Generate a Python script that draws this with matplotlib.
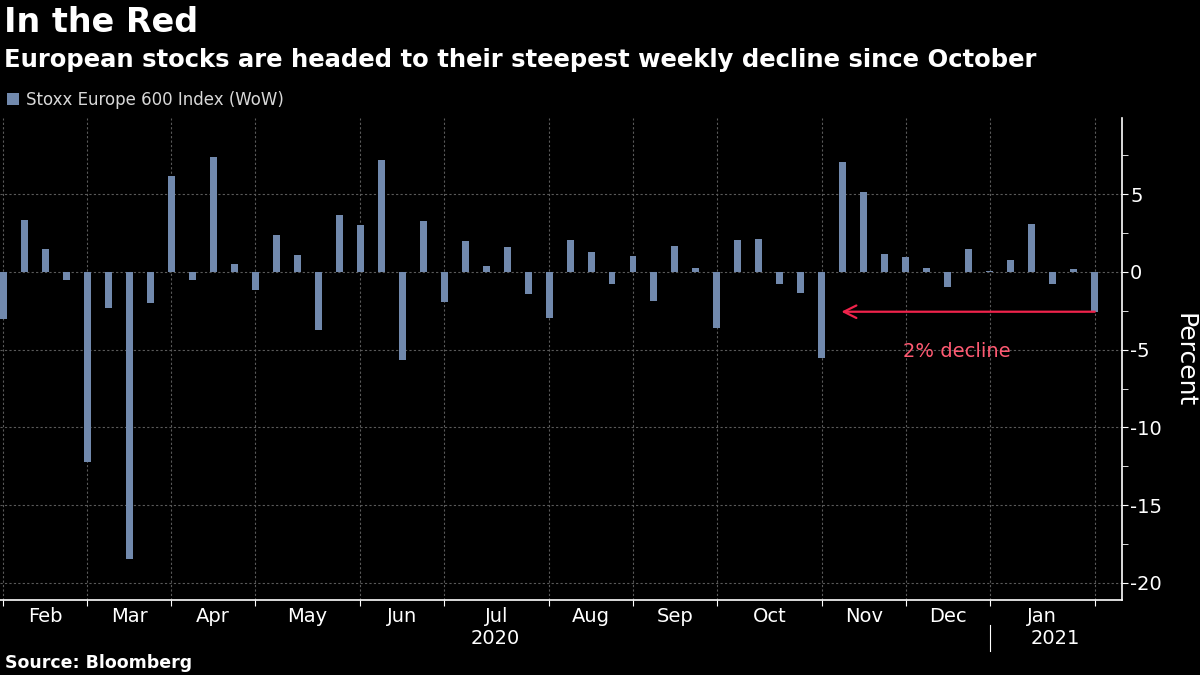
import pandas as pd
import matplotlib.pyplot as plt
import matplotlib.dates as mdates
import matplotlib.transforms as mtransforms
from matplotlib.ticker import MultipleLocator

plt.rcParams['font.family'] = ['DejaVu Sans']
plt.rcParams['axes.unicode_minus'] = False

# Variação semanal do Stoxx Europe 600 (%), sextas-feiras
datas = pd.date_range('2020-01-31', '2021-01-29', freq='W-FRI')
variacao = [-3.01, 3.37, 1.50, -0.54, -12.21, -2.30, -18.46, -2.02, 6.14, -0.54,
            7.42, 0.53, -1.14, 2.40, 1.11, -3.71, 3.69, 3.05, 7.17, -5.65,
            3.30, -1.91, 2.01, 0.41, 1.63, -1.40, -2.94, 2.08, 1.31, -0.75,
            1.05, -1.85, 1.69, 0.28, -3.58, 2.08, 2.14, -0.75, -1.33, -5.52,
            7.10, 5.17, 1.18, 0.99, 0.28, -0.95, 1.50, 0.08, 0.79, 3.11,
            -0.75, 0.19, -2.56]
serie_nome = 'Stoxx Europe 600 Index (WoW)'
meses = ['Feb', 'Mar', 'Apr', 'May', 'Jun', 'Jul', 'Aug', 'Sep', 'Oct', 'Nov', 'Dec', 'Jan']
anos = ['2020', '2021']

cor_barra = '#7189ad'
cor_grade = '#5a5a5a'
cor_seta = '#f0234b'

fig = plt.figure(figsize=(12, 6.75), dpi=100, facecolor='black')
ax = fig.add_axes([0, 0.1111, 0.9348, 0.7141])
ax.set_facecolor('black')

ax.bar(datas, variacao, width=2.33, color=cor_barra, label=serie_nome, zorder=3)

# última sexta-feira de cada mês -> linhas de grade verticais
s = pd.Series(datas)
fim_mes = list(s.groupby(s.dt.to_period('M')).max())
meio_mes = [a + (b - a) / 2 for a, b in zip(fim_mes[:-1], fim_mes[1:])]

ax.set_xlim(datas[0] - pd.Timedelta(days=1.1), datas[-1] + pd.Timedelta(days=9))
ax.set_ylim(-21.1, 9.9)

ax.set_xticks(fim_mes)
ax.set_xticklabels([''] * len(fim_mes))
ax.set_xticks(meio_mes, minor=True)
ax.set_xticklabels(meses, minor=True)
ax.tick_params(axis='x', which='major', length=4, color='white', direction='out')
ax.tick_params(axis='x', which='minor', length=0, pad=5, labelsize=14, labelcolor='white')

ax.yaxis.tick_right()
ax.set_yticks([-20, -15, -10, -5, 0, 5])
ax.yaxis.set_minor_locator(MultipleLocator(2.5))
ax.tick_params(axis='y', which='major', length=4, color='white', labelsize=14,
               labelcolor='white', pad=2)
ax.tick_params(axis='y', which='minor', length=4, color='white')

ax.grid(which='major', color=cor_grade, linestyle=(0, (2, 2)), linewidth=0.8, zorder=0)
for lado in ['left', 'top']:
    ax.spines[lado].set_visible(False)
for lado in ['right', 'bottom']:
    ax.spines[lado].set_color('white')
    ax.spines[lado].set_linewidth(1.2)

# anos abaixo dos meses, separados por uma linha vertical
trans_ax = mtransforms.blended_transform_factory(ax.transAxes, fig.transFigure)
x_sep = mdates.date2num(fim_mes[-2])
pos_sep = ax.transAxes.inverted().transform(ax.transData.transform((x_sep, 0)))[0]
ax.text(pos_sep / 2, 1 - 638 / 675, anos[0], transform=trans_ax,
        ha='center', va='center', color='white', fontsize=14)
ax.text((pos_sep + 1) / 2, 1 - 638 / 675, anos[1], transform=trans_ax,
        ha='center', va='center', color='white', fontsize=14)
fig.add_artist(plt.Line2D([pos_sep * 0.9348] * 2, [1 - 625 / 675, 1 - 651 / 675],
                          color='white', linewidth=0.8))

# seta de anotação
ax.annotate('', xy=(pd.Timestamp('2020-11-05 12:00'), variacao[-1]),
            xytext=(datas[-1], variacao[-1]),
            arrowprops=dict(arrowstyle='->,head_length=0.9,head_width=0.45',
                            color=cor_seta, lw=1.6, shrinkA=0, shrinkB=0), zorder=4)
ax.text(pd.Timestamp('2020-12-14'), -5.13, '2% decline', color='#ff5a72',
        fontsize=14, ha='center', va='center', zorder=4)

fig.text(1185 / 1200, 1 - 360 / 675, 'Percent', rotation=270, ha='center', va='center',
         color='white', fontsize=18)

fig.text(0.003, 1 - 22 / 675, 'In the Red', color='white', fontsize=24,
         fontweight='bold', ha='left', va='center')
fig.text(0.003, 1 - 60 / 675,
         'European stocks are headed to their steepest weekly decline since October',
         color='white', fontsize=17.5, fontweight='bold', ha='left', va='center')
fig.text(0.004, 1 - 663 / 675, 'Source: Bloomberg', color='white', fontsize=12.5,
         fontweight='bold', ha='left', va='center')

fig.legend(loc='center left', bbox_to_anchor=(0.006, 1 - 100 / 675), frameon=False,
           fontsize=12, handlelength=0.7, handleheight=0.7, handletextpad=0.4,
           labelcolor='#d8d8d8', borderaxespad=0, borderpad=0)

fig.savefig('out.png', dpi=100, facecolor='black')
